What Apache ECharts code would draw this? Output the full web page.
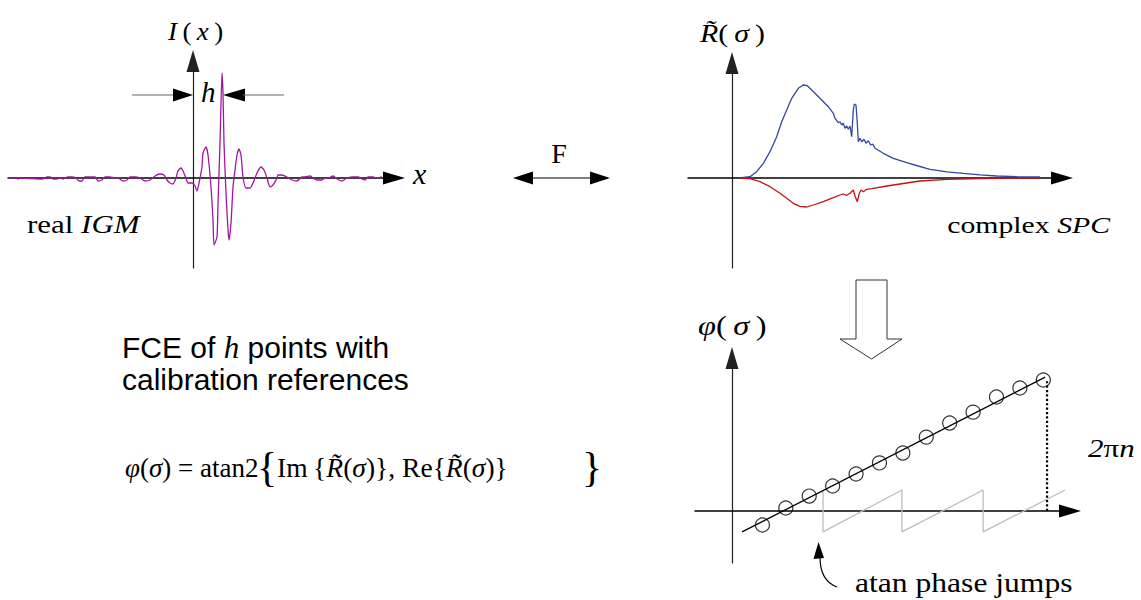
<!DOCTYPE html>
<html><head><meta charset="utf-8">
<script src="https://cdn.jsdelivr.net/npm/echarts@6/dist/echarts.min.js"></script>
<style>html,body{margin:0;padding:0;background:#fff}#c{width:1141px;height:600px}</style>
</head><body><div id="c"></div><script>
// ---- real interferogram I(x): [x, I] (arbitrary units) ----
const igmPoints = [
  [-18.4,0],[-17.6,0],[-17.5,-0.1],[-17.3,0],[-15.0,-0.1],[-14.6,0.1],[-14.3,0.1],[-14.0,-0.1],[-13.6,-0.1],
  [-13.3,0],[-13.0,-0.1],[-12.5,0.1],[-12.1,0.1],[-11.7,0],[-11.4,-0.3],[-11.1,-0.3],[-10.8,0.1],[-10.3,0.1],
  [-9.8,0.1],[-9.5,-0.3],[-9.1,-0.2],[-8.8,0.1],[-8.3,0.1],[-7.8,0],[-7.5,0],[-7.0,-0.3],[-6.6,-0.2],
  [-6.3,0.1],[-5.8,0.1],[-5.3,0],[-4.8,-0.3],[-4.3,-0.2],[-3.8,0.2],[-3.3,0.4],[-2.9,0.3],[-2.6,-0.2],
  [-2.3,-0.5],[-2.0,-0.6],[-1.7,0],[-1.5,0.7],[-1.2,1.0],[-1.0,0.7],[-0.7,0],[-0.5,-0.5],[-0.1,-0.5],
  [0.2,-0.8],[0.4,-1.3],[0.6,-0.5],[0.9,1.1],[1.0,2.5],[1.3,3.1],[1.5,2.3],[1.8,-0.9],[2.0,-4.2],
  [2.1,-6.7],[2.4,-5.9],[2.5,-2.5],[2.7,3.5],[2.9,10.5],[3.0,8.5],[3.1,3.5],[3.3,-1.5],[3.5,-5.2],
  [3.6,-6.2],[3.8,-4.5],[4.0,-0.9],[4.2,0.8],[4.4,2.3],[4.6,2.9],[4.8,2.3],[5.0,0.1],[5.3,-1.0],
  [5.7,-1.0],[6.0,-0.5],[6.4,0.5],[6.8,1.1],[7.1,0.8],[7.4,0],[7.7,-0.9],[8.0,-0.7],[8.4,0],
  [8.5,0.3],[8.9,0.3],[9.4,0.1],[9.9,-0.2],[10.4,-0.3],[10.9,0.1],[11.2,0.1],[11.7,0.2],[12.0,0],
  [12.4,-0.2],[12.9,-0.2],[13.2,0],[13.5,0],[14.0,0.2],[14.4,-0.1],[14.9,-0.3],[15.4,0],[16.0,0.1],
  [16.5,0.1],[16.9,-0.1],[17.2,-0.2],[17.5,0.1],[18.0,0.1],[18.4,0],[18.9,0.1]
];
// ---- complex spectrum: real part (blue) and imaginary part (red): [sigma, value] ----
const spectrumRe = [
  [0.97,0.03],[1.8,0.13],[2.47,0.63],[3.13,1.47],[3.8,2.63],[4.47,4.13],[4.97,5.63],[5.47,6.8],
  [5.97,7.97],[6.63,8.97],[7.13,9.3],[7.53,9.23],[7.97,8.8],[8.8,7.97],[9.63,7.13],[10.13,6.47],
  [10.3,5.97],[10.63,5.53],[10.8,5.63],[10.97,5.3],[11.13,5.47],[11.3,4.97],[11.47,5.2],[11.63,4.87],
  [11.8,5.2],[11.97,4.13],[12.13,6.8],[12.23,7.4],[12.4,7.3],[12.53,5.47],[12.63,3.63],[12.8,3.97],
  [12.97,3.63],[13.2,3.87],[13.4,3.47],[13.63,3.73],[13.87,3.3],[14.07,3.4],[14.3,2.97],[15.13,2.47],
  [16.13,1.97],[17.47,1.53],[18.63,1.2],[19.8,0.87],[21.5,0.62],[23.13,0.47],[24.8,0.32],[26.47,0.2],
  [28.5,0.14],[30.8,0.1]
];
const spectrumIm = [
  [0.97,-0.03],[1.8,-0.07],[2.8,-0.37],[3.8,-0.87],[4.8,-1.53],[5.47,-2.03],[6.13,-2.53],[6.8,-2.83],
  [7.47,-2.9],[8.13,-2.7],[9.13,-2.37],[10.13,-1.97],[10.8,-1.7],[11.13,-1.6],[11.47,-1.73],[11.8,-1.53],
  [12.13,-1.2],[12.3,-1.8],[12.53,-2.37],[12.73,-1.53],[12.9,-1.2],[13.13,-1.37],[13.47,-1.13],
  [13.97,-1.07],[15.5,-0.8],[16.8,-0.6],[18.8,-0.3],[21.5,-0.13],[24.8,-0.07],[28.0,-0.02],[30.8,0]
];
// ---- phase: measured points (circles), fit line, wrapped atan phase, 2*pi*n marker ----
const phaseSigma  = [1.3,2.3,3.3,4.3,5.3,6.3,7.3,8.3,9.3,10.3,11.3,12.3,13.3];
const phaseValues = [-0.67,0.14,0.71,1.19,1.76,2.29,2.76,3.52,4.19,4.71,5.43,5.86,6.24];
const phaseFit    = [[0.43,-1],[13.38,6.38]];
const wrappedPhase = [[3.89,1],[3.89,-1],[7.26,1],[7.26,-1],[10.73,1],[10.73,-1],[14.23,1]];
const unwrapMarker = [[13.46,0],[13.46,6.24]];

const SERIF = '"Liberation Serif","Times New Roman",serif';
const SANS = '"Liberation Sans",Arial,sans-serif';

function xAx(g, min, max) {
  return {type:'value', gridIndex:g, min:min, max:max,
    axisLine:{show:true, onZero:true, symbol:['none','triangle'], symbolSize:[13,22], lineStyle:{color:'#000', width:1.5}},
    axisTick:{show:false}, axisLabel:{show:false}, splitLine:{show:false}};
}
function yAx(g, min, max) {
  return {type:'value', gridIndex:g, min:min, max:max,
    axisLine:{show:true, onZero:true, symbol:['none','triangle'], symbolSize:[13,22], lineStyle:{color:'#222', width:1.2}},
    axisTick:{show:false}, axisLabel:{show:false}, splitLine:{show:false}};
}
// text element at (x,y), horizontally scaled by sx about its anchor
function txt(x, y, text, sx, o) {
  return {type:'text', z:100, x:x, y:y, scaleX:sx, scaleY:1,
    style:Object.assign({x:0, y:0, text:text, fontFamily:SERIF, fontSize:25,
    fill:'#000', align:'left', verticalAlign:'middle'}, o || {})};
}
function ital(fs) { return {fontFamily:SERIF, fontStyle:'italic', fontSize:fs, fill:'#000'}; }

const phaseData = phaseSigma.map((s, i) => [s, phaseValues[i]]);

const option = {
  animation:false,
  backgroundColor:'#fff',
  grid:[
    {left:8, top:61, width:386, height:207},
    {left:688, top:63, width:374, height:205},
    {left:695, top:358, width:375, height:205}
  ],
  xAxis:[xAx(0,-18.5,20.1), xAx(1,-4.4,33.0), xAx(2,-1.58,14.44)],
  yAxis:[yAx(0,-9,11.7), yAx(1,-9,11.5), yAx(2,-2.48,7.29)],
  series:[
    {type:'line', xAxisIndex:0, yAxisIndex:0, data:igmPoints, symbol:'none', smooth:0.2,
      lineStyle:{color:'#a0179f', width:1.3}},
    {type:'line', xAxisIndex:1, yAxisIndex:1, data:spectrumRe, symbol:'none',
      lineStyle:{color:'#34469e', width:1.3}},
    {type:'line', xAxisIndex:1, yAxisIndex:1, data:spectrumIm, symbol:'none',
      lineStyle:{color:'#c01418', width:1.3}},
    {type:'line', xAxisIndex:2, yAxisIndex:2, data:wrappedPhase, symbol:'none',
      lineStyle:{color:'#bdbdbd', width:1.3}},
    {type:'line', xAxisIndex:2, yAxisIndex:2, data:phaseFit, symbol:'none',
      lineStyle:{color:'#000', width:1.3}},
    {type:'line', xAxisIndex:2, yAxisIndex:2, data:unwrapMarker, symbol:'none',
      lineStyle:{color:'#000', width:2.2, type:'dotted'}},
    {type:'scatter', xAxisIndex:2, yAxisIndex:2, data:phaseData, symbol:'circle', symbolSize:14,
      itemStyle:{color:'rgba(255,255,255,0)', borderColor:'#000', borderWidth:1.2}}
  ],
  graphic:[
    // h width arrows
    {type:'line', shape:{x1:132,y1:95,x2:175,y2:95}, style:{stroke:'#666', lineWidth:1.2}},
    {type:'polygon', shape:{points:[[173,88.5],[193,95],[173,101.5]]}, style:{fill:'#000'}},
    {type:'polygon', shape:{points:[[245,88.5],[223,95],[245,101.5]]}, style:{fill:'#000'}},
    {type:'line', shape:{x1:243,y1:95,x2:284,y2:95}, style:{stroke:'#666', lineWidth:1.2}},
    // F double arrow
    {type:'line', shape:{x1:530,y1:178,x2:593,y2:178}, style:{stroke:'#000', lineWidth:1.2}},
    {type:'polygon', shape:{points:[[513,178],[533,171.5],[533,184.5]]}, style:{fill:'#000'}},
    {type:'polygon', shape:{points:[[610,178],[590,171.5],[590,184.5]]}, style:{fill:'#000'}},
    // hollow down arrow
    {type:'polygon', shape:{points:[[856,280],[887,280],[887,339],[902,339],[871.5,359],[840,339],[856,339]]},
      style:{fill:'#fff', stroke:'#333', lineWidth:1}},
    // curved pointer to phase jump
    {type:'bezierCurve', shape:{x1:837,y1:587,cpx1:826,cpy1:583,cpx2:820,cpy2:573,x2:820,y2:557},
      style:{stroke:'#000', lineWidth:1.2, fill:null}},
    {type:'polygon', shape:{points:[[818.5,542],[813.5,559],[824,558]]}, style:{fill:'#000'}},
    // texts
    txt(168, 31, '{i|I}\u2009(\u2009{i|x}\u2009)', 1.04, {fontSize:26, rich:{i:ital(26)}}),
    txt(413, 173, 'x', 1, {fontStyle:'italic', fontSize:30}),
    txt(201, 92, 'h', 1, {fontStyle:'italic', fontSize:29}),
    txt(27, 224, 'real {i|IGM}', 1.19, {fontSize:26, rich:{i:ital(26)}}),
    txt(559, 153, 'F', 1, {fontSize:28, align:'center'}),
    txt(700, 33, '{i|R\u0303}(\u2009{i|\u03C3}\u2009)', 1.15, {fontSize:26, rich:{i:ital(26)}}),
    txt(1110, 225, 'complex {i|SPC}', 1.24, {fontSize:24, align:'right', rich:{i:ital(24)}}),
    txt(698, 325, '{i|\u03C6}(\u2009{i|\u03C3}\u2009)', 1.2, {fontSize:27, rich:{i:ital(27)}}),
    txt(1088, 449, '{i|2}\u03C0{i|n}', 1.24, {fontSize:25, rich:{i:ital(25)}}),
    txt(855, 583, 'atan phase jumps', 1.17, {fontSize:27}),
    txt(122, 347, 'FCE of {h|h} points with', 1, {fontFamily:SANS, fontSize:30,
      rich:{h:{fontFamily:SERIF, fontStyle:'italic', fontSize:31, fill:'#000'}}}),
    txt(122, 379, 'calibration references', 1, {fontFamily:SANS, fontSize:30}),
    txt(125, 468, '{i|\u03C6}({i|\u03C3}) = atan2', 1, {fontSize:27, rich:{i:ital(27)}}),
    txt(257, 467, '{', 1, {fontSize:42}),
    txt(277, 468, 'Im\u2009{{i|R\u0303}({i|\u03C3})}, Re{{i|R\u0303}({i|\u03C3})}', 1.02, {fontSize:27, rich:{i:ital(27)}}),
    txt(582, 467, '}', 1, {fontSize:42})
  ]
};
const chart = echarts.init(document.getElementById('c'), null, {renderer:'svg', width:1141, height:600});
chart.setOption(option);
</script></body></html>
